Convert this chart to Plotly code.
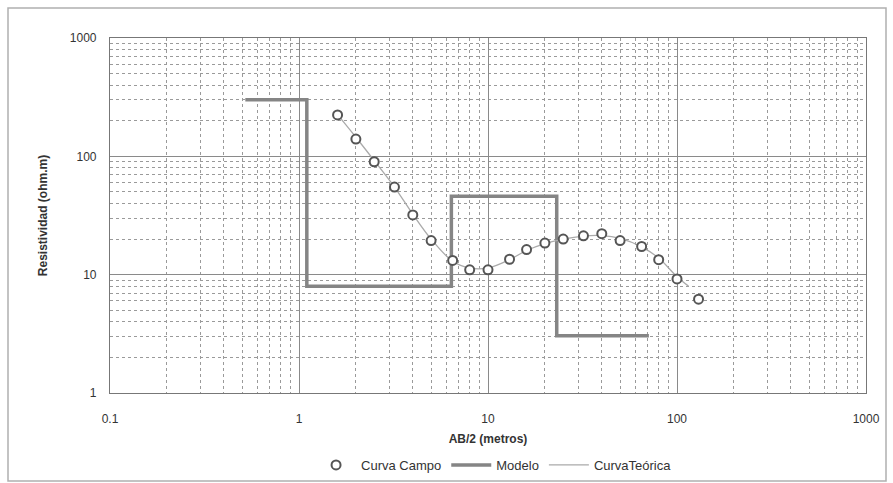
import plotly.graph_objects as go

# Sondeo eléctrico vertical: datos de campo, modelo de capas y curva teórica
ab2_campo = [1.6, 2.0, 2.5, 3.2, 4.0, 5.0, 6.5, 8.0, 10, 13, 16, 20, 25, 32, 40, 50, 65, 80, 100, 130]
rho_campo = [224, 140, 90, 55, 32, 19.4, 13.2, 11.0, 11.0, 13.5, 16.3, 18.5, 20.0, 21.3, 22.2, 19.4, 17.3, 13.4, 9.2, 6.2]

ab2_teorica = [1.6, 2.0, 2.5, 3.2, 4.0, 5.0, 6.5, 8.0, 10, 13, 16, 20, 25, 32, 40, 50, 65, 80, 100, 115]
rho_teorica = [225, 145, 92, 55, 32.5, 20, 13.0, 11.4, 11.4, 13.4, 16.0, 18.3, 20.0, 21.2, 21.4, 20.3, 17.2, 13.8, 9.6, 8.0]

ab2_modelo = [0.52, 1.1, 1.1, 6.4, 6.4, 23.1, 23.1, 71]
rho_modelo = [300, 300, 8, 8, 46, 46, 3.05, 3.05]

x_ticks = [0.1, 1, 10, 100, 1000]
x_ticktext = ["0.1", "1", "10", "100", "1000"]
y_ticks = [1, 10, 100, 1000]
y_ticktext = ["1", "10", "100", "1000"]

W, H = 893, 483
ML, MR, MT, MB = 110, 27, 38, 90

fig = go.Figure()
# draw order: model, theoretical curve, then field markers on top
fig.add_trace(go.Scatter(
    x=ab2_modelo, y=rho_modelo, mode="lines", name="Modelo",
    line=dict(color="#858585", width=3.5), legendrank=2,
))
fig.add_trace(go.Scatter(
    x=ab2_teorica, y=rho_teorica, mode="lines", name="CurvaTeórica",
    line=dict(color="#aaaaaa", width=1.3, shape="spline"), legendrank=3,
))
fig.add_trace(go.Scatter(
    x=ab2_campo, y=rho_campo, mode="markers", name="Curva Campo",
    marker=dict(symbol="circle", size=9, color="white",
                line=dict(color="#555555", width=2)), legendrank=1,
))

grid_major = "#8a8a8a"
grid_minor = "#9a9a9a"
font_fam = "Liberation Sans, Arial, sans-serif"

axis_common = dict(
    type="log", showline=True, linecolor="#777777", linewidth=1.2, mirror=True,
    showgrid=True, gridcolor=grid_major, gridwidth=1, ticks="", zeroline=False,
    tickfont=dict(family=font_fam, size=12, color="#333333"),
    automargin=False,
    minor=dict(dtick="D1", showgrid=True, gridcolor=grid_minor, griddash="dot", gridwidth=1, ticks=""),
)

fig.update_xaxes(
    **axis_common, range=[-1, 3], tickvals=x_ticks, ticktext=x_ticktext,
    ticklabelstandoff=14,
    title=dict(text="<b>AB/2 (metros)</b>", font=dict(family=font_fam, size=12, color="#333333"), standoff=10),
)
fig.update_yaxes(
    **axis_common, range=[0, 3], tickvals=y_ticks, ticktext=y_ticktext,
    ticklabelstandoff=10,
    title=dict(text="<b>Resistividad (ohm.m)</b>", font=dict(family=font_fam, size=12, color="#333333"), standoff=19),
)

pw = W - ML - MR
ph = H - MT - MB
# outer frame of the chart area
fig.add_shape(
    type="rect", xref="paper", yref="paper",
    x0=(8 - ML) / pw, x1=(886 - ML) / pw,
    y0=(H - MB - 481) / ph, y1=(H - MB - 8) / ph,
    line=dict(color="#b0b0b0", width=1.5), layer="below",
)

fig.update_layout(
    width=W, height=H,
    margin=dict(l=ML, r=MR, t=MT, b=MB, autoexpand=False),
    paper_bgcolor="white", plot_bgcolor="white",
    font=dict(family=font_fam, size=12, color="#333333"),
    showlegend=True,
    legend=dict(
        orientation="h", x=0.508, xanchor="center",
        yref="container", y=(H - 465) / H, yanchor="middle",
        font=dict(family=font_fam, size=13, color="#333333"),
        traceorder="normal", itemwidth=40,
    ),
)

fig.write_html("out.html")
